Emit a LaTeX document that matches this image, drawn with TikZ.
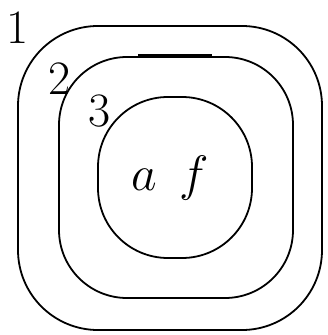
\documentclass[tikz,border=0pt]{standalone}
\usepackage{tikz}
\usetikzlibrary{positioning}

\begin{document}
\begin{tikzpicture}[
  x=0.5pt, y=-0.5pt,
  font=\fontsize{24}{28}\selectfont,
  region/.style={rectangle, draw, line width=0.9pt, inner sep=0pt},
  lbl/.style={inner sep=0pt},
  cut/.style={line width=2pt}]

  \useasboundingbox (0,0) rectangle (327,335);
  % nested regions
  \node[region, minimum width=152pt, minimum height=152pt, rounded corners=40pt] (outer) at (170,178) {};
  \node[region, minimum width=117pt, minimum height=120.5pt, rounded corners=34pt] (mid) at (176,177.5) {};
  \node[region, minimum width=77pt, minimum height=80.5pt, rounded corners=35pt] (inner) at (175,177.5) {};
  % labels
  \node[lbl] (l1) at (18,28) {1};
  \node[lbl] (l2) at (60,79) {2};
  \node[lbl] (l3) at (100,111) {3};
  \node[lbl] (af) at (170,178) {$a\;\,f$};
  % thick edge on region 2
  \draw[cut] ([xshift=-19pt]mid.north) -- ([xshift=18pt]mid.north);
\end{tikzpicture}
\end{document}
